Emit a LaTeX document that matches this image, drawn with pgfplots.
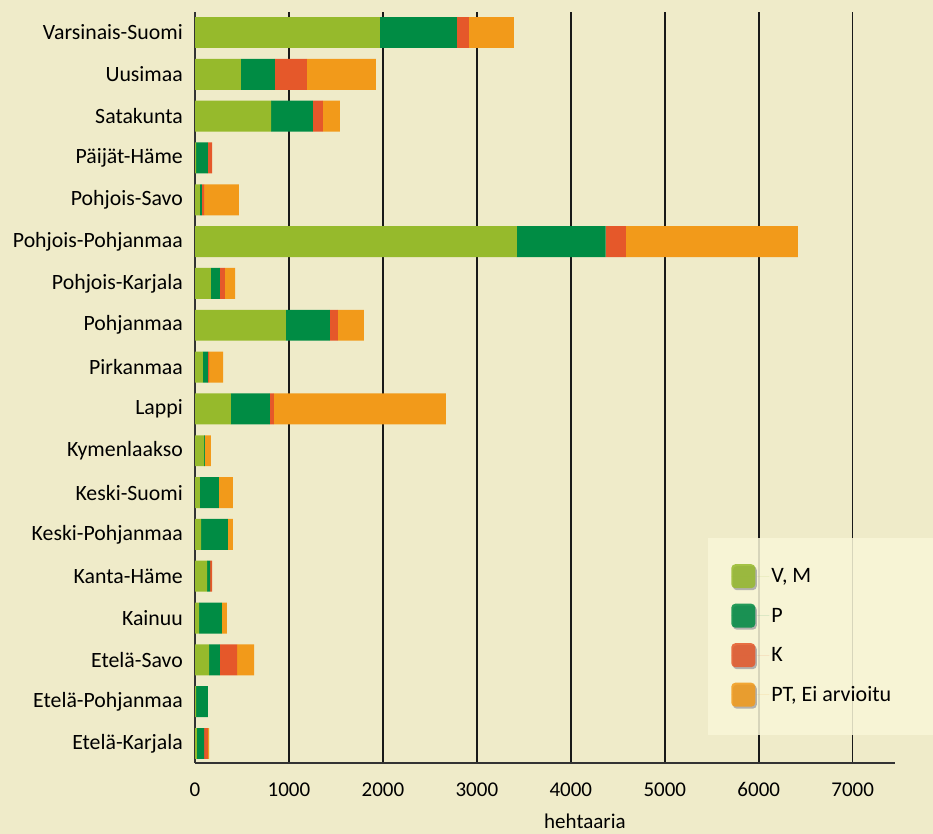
\documentclass[border=0pt]{standalone}
\usepackage{pgfplots}
\pgfplotsset{compat=1.18}
\usepackage{pgfplotstable}
\usepackage{fontspec}
\setmainfont{Carlito}
\definecolor{bgc}{RGB}{239,235,201}
\definecolor{legbg}{RGB}{249,246,216}
\definecolor{cVM}{RGB}{150,186,44}
\definecolor{cP}{RGB}{0,140,68}
\definecolor{cK}{RGB}{229,88,42}
\definecolor{cPT}{RGB}{242,154,26}

\pgfplotstableread{
y VM P K PT label
0 21 75 42 11 Etelä-Karjala
1 11 127 0 0 Etelä-Pohjanmaa
2 149 117 181 181 Etelä-Savo
3 43 244 0 53 Kainuu
4 128 32 21 0 Kanta-Häme
5 64 287 0 53 Keski-Pohjanmaa
6 53 202 0 149 Keski-Suomi
7 96 8 0 64 Kymenlaakso
8 383 415 42 1830 Lappi
9 85 53 11 149 Pirkanmaa
10 968 468 85 277 Pohjanmaa
11 170 96 53 107 Pohjois-Karjala
12 3426 943 216 1830 Pohjois-Pohjanmaa
13 53 21 22 372 Pohjois-Savo
14 11 127 43 0 Päijät-Häme
15 809 446 107 181 Satakunta
16 489 362 340 735 Uusimaa
17 1968 819 128 479 Varsinais-Suomi
}\data

\begin{document}
\begin{tikzpicture}[x=1pt,y=1pt]
\useasboundingbox (0,0) rectangle (933,834);
\fill[bgc] (0,0) rectangle (933,834);
\begin{axis}[
  at={(195pt,71pt)}, anchor=south west,
  scale only axis, width=700pt, height=751pt,
  xbar stacked, bar width=0.74,
  xmin=0, xmax=7450, ymin=-0.466, ymax=17.49,
  ytick={0,...,17}, yticklabels from table={\data}{label},
  xtick={0,1000,...,7000},
  axis x line*=bottom, axis y line*=left,
  axis line style={-, black!80, line width=1.5pt},
  xmajorgrids, major grid style={black!90, line width=1.5pt},
  tick style={draw=none},
  /pgf/number format/assume math mode=true,
  /pgf/number format/1000 sep={},
  yticklabel style={font=\fontsize{21.8}{24}\selectfont, inner xsep=0pt, xshift=-12pt},
  xticklabel style={font=\fontsize{21}{24}\selectfont, yshift=-16pt},
  xlabel={hehtaaria},
  xlabel style={font=\fontsize{21}{24}\selectfont, at={(axis description cs:0.557,0)}, anchor=center, yshift=-58pt},
  legend cell align=left,
  legend image code/.code={%
    \path (0pt,0pt) -- (38pt,0pt);
    \fill[black!35, rounded corners=4pt] (1.5pt,-14pt) rectangle (25.5pt,10pt);
    \fill[#1, draw=none, rounded corners=4pt] (0pt,-12pt) rectangle (24pt,12pt);},
  legend style={at={(0.733,0.2996)}, anchor=north west, draw=none,
    fill=legbg, fill opacity=0.85, text opacity=1,
    inner xsep=23pt, inner ysep=26pt, row sep=13.5pt,
    font=\fontsize{22}{24}\selectfont},
]
\addplot[fill=cVM, draw=none] table[x=VM, y=y] {\data};
\addplot[fill=cP, draw=none] table[x=P, y=y] {\data};
\addplot[fill=cK, draw=none] table[x=K, y=y] {\data};
\addplot[fill=cPT, draw=none] table[x=PT, y=y] {\data};
\legend{{V, M},P,K,{PT, Ei arvioitu\hspace*{30pt}}}
\end{axis}
\end{tikzpicture}
\end{document}
